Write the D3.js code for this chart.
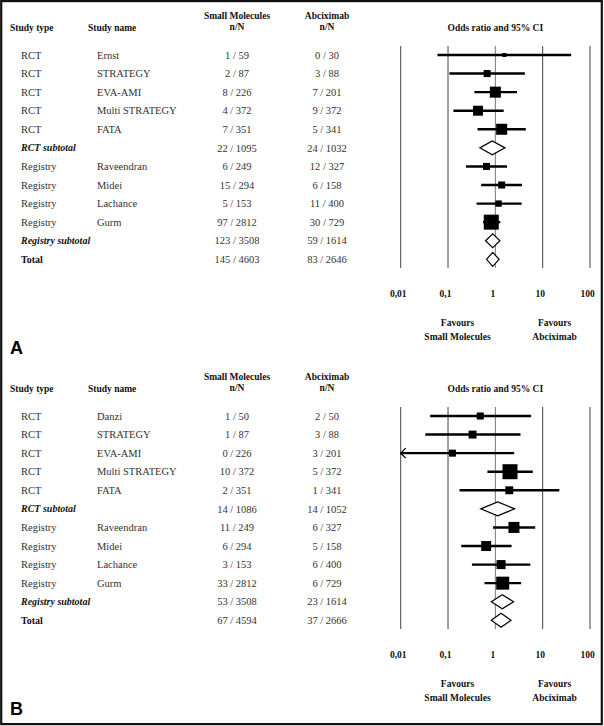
<!DOCTYPE html>
<html><head><meta charset="utf-8">
<script src="https://cdn.jsdelivr.net/npm/d3@7"></script>
<style>body{margin:0;background:#fff}svg{display:block}text{font-family:"Liberation Serif","DejaVu Serif",serif}</style>
</head><body>
<script>
// ---------- data ----------
const studyTypes = ["RCT","RCT","RCT","RCT","RCT","RCT subtotal","Registry","Registry","Registry","Registry","Registry subtotal","Total"];
const rowKinds   = ["study","study","study","study","study","subtotal","study","study","study","study","subtotal","total"];

const namesA = ["Ernst","STRATEGY","EVA-AMI","Multi STRATEGY","FATA","","Raveendran","Midei","Lachance","Gurm","",""];
const smallA = ["1 / 59","2 / 87","8 / 226","4 / 372","7 / 351","22 / 1095","6 / 249","15 / 294","5 / 153","97 / 2812","123 / 3508","145 / 4603"];
const abcA   = ["0 / 30","3 / 88","7 / 201","9 / 372","5 / 341","24 / 1032","12 / 327","6 / 158","11 / 400","30 / 729","59 / 1614","83 / 2646"];
const orA    = [1.55,0.67,1.0,0.43,1.36,0.86,0.65,1.36,1.17,0.82,0.88,0.88];
const loA    = [0.06,0.107,0.36,0.13,0.42,0.47,0.24,0.5,0.4,0.55,0.62,0.65];
const hiA    = [40,4.2,2.87,1.5,4.4,1.6,1.76,3.66,3.6,1.27,1.25,1.2];
const weightA= [7,22,54,44,54,null,22,22,18,100,null,null];

const namesB = ["Danzi","STRATEGY","EVA-AMI","Multi STRATEGY","FATA","","Raveendran","Midei","Lachance","Gurm","",""];
const smallB = ["1 / 50","1 / 87","0 / 226","10 / 372","2 / 351","14 / 1086","11 / 249","6 / 294","3 / 153","33 / 2812","53 / 3508","67 / 4594"];
const abcB   = ["2 / 50","3 / 88","3 / 201","5 / 372","1 / 341","14 / 1052","6 / 327","5 / 158","6 / 400","6 / 729","23 / 1614","37 / 2666"];
const orB    = [0.48,0.33,0.124,2.04,1.97,1.12,2.47,0.64,1.32,1.43,1.4,1.32];
const loB    = [0.042,0.033,0.005,0.68,0.175,0.49,0.89,0.19,0.32,0.59,0.82,0.82];
const hiB    = [5.7,3.4,2.5,6.2,22.5,2.55,6.95,2.2,5.5,3.5,2.43,2.14];
const weightB= [22,28,22,100,28,null,54,44,36,75,null,null];

const tickValues = [0.01,0.1,1,10,100];
const tickLabels = ["0,01","0,1","1","10","100"];
const panelLabels = ["A","B"];

// ---------- drawing ----------
const W = 604, H = 726;
const svg = d3.select("body").append("svg").attr("width",W).attr("height",H);

const x = d3.scaleLog().domain([0.01,100]).range([400.7,590]);
const box = d3.scaleSqrt().domain([0,100]).range([0,15]);

function panel(off, names, small, abc, or, lo, hi, weight, label){
  const g = svg.append("g").attr("transform",`translate(0,${off})`);
  const y = d3.scalePoint().domain(d3.range(studyTypes.length)).range([55,259.3]);

  // headers
  const ht = (tx,ty,s,anchor) => g.append("text").attr("x",tx).attr("y",ty).attr("dy","0.35em")
      .attr("text-anchor",anchor||"start").style("font-weight","bold").style("font-size","9.5px").style("fill","#111").text(s);
  ht(10,28,"Study type");
  ht(88,28,"Study name");
  ht(237,15.7,"Small Molecules","middle");
  ht(237,27,"n/N","middle");
  ht(327,15.7,"Abciximab","middle");
  ht(327,27,"n/N","middle");
  ht(x(1),28,"Odds ratio and 95% CI","middle");

  // rows text
  const fs = "10.5px";
  const rows = g.selectAll("g.row").data(d3.range(studyTypes.length)).join("g")
    .attr("class","row").attr("transform",i=>`translate(0,${y(i)})`);
  rows.append("text").attr("x",21).attr("dy","0.35em")
    .style("font-size",i=>rowKinds[i]==="study"?fs:"10px")
    .style("font-weight",i=>rowKinds[i]==="study"?"normal":"bold")
    .style("font-style",i=>rowKinds[i]==="subtotal"?"italic":"normal")
    .style("fill",i=>rowKinds[i]==="study"?"#333":"#111")
    .text(i=>studyTypes[i]);
  rows.append("text").attr("x",97).attr("dy","0.35em").style("font-size",fs).style("fill","#333").text(i=>names[i]);
  rows.append("text").attr("x",237).attr("dy","0.35em").attr("text-anchor","middle").style("font-size",fs).style("fill","#333").text(i=>small[i]);
  rows.append("text").attr("x",327).attr("dy","0.35em").attr("text-anchor","middle").style("font-size",fs).style("fill","#333").text(i=>abc[i]);

  // gridlines
  g.selectAll("line.grid").data(tickValues).join("line").attr("class","grid")
    .attr("x1",d=>x(d)).attr("x2",d=>x(d)).attr("y1",46).attr("y2",268)
    .attr("stroke",d=>d===1?"#777":"#444").attr("stroke-width",1);

  // axis labels
  const ax = g.append("g").attr("transform","translate(-3,287)")
    .call(d3.axisBottom(x).tickValues(tickValues).tickFormat((d,i)=>tickLabels[i]).tickSize(0));
  ax.select(".domain").remove();
  ax.selectAll("text").style("font-family",'"Liberation Serif",serif').style("font-weight","bold").style("font-size","9.5px").attr("fill","#111");

  // favours
  [["Favours","Small Molecules",x(10**-0.8)],["Favours","Abciximab",x(10**1.25)]].forEach(([a,b,px])=>{
    ht(px,322.7,a,"middle"); ht(px,336.7,b,"middle");
  });

  // CI lines
  const studyIdx = d3.range(studyTypes.length).filter(i=>rowKinds[i]==="study");
  const xmin = x.domain()[0];
  g.selectAll("line.ci").data(studyIdx).join("line").attr("class","ci")
    .attr("x1",i=>x(Math.max(lo[i],xmin))).attr("x2",i=>x(hi[i]))
    .attr("y1",i=>y(i)).attr("y2",i=>y(i)).attr("stroke","#000").attr("stroke-width",2.4);
  // arrows for clipped CIs
  g.selectAll("path.arrow").data(studyIdx.filter(i=>lo[i]<xmin)).join("path").attr("class","arrow")
    .attr("d",i=>{const px=x(xmin), py=y(i); return `M${px+5},${py-5}L${px},${py}L${px+5},${py+5}`;})
    .attr("fill","none").attr("stroke","#000").attr("stroke-width",1.3);
  // boxes
  g.selectAll("rect.pt").data(studyIdx).join("rect").attr("class","pt")
    .attr("x",i=>x(or[i])-box(weight[i])/2).attr("y",i=>y(i)-box(weight[i])/2)
    .attr("width",i=>box(weight[i])).attr("height",i=>box(weight[i])).attr("fill","#000");
  // diamonds
  const diaIdx = d3.range(studyTypes.length).filter(i=>rowKinds[i]!=="study");
  g.selectAll("path.dia").data(diaIdx).join("path").attr("class","dia")
    .attr("d",i=>`M${x(lo[i])},${y(i)}L${x(or[i])},${y(i)-7}L${x(hi[i])},${y(i)}L${x(or[i])},${y(i)+7}Z`)
    .attr("fill","#fff").attr("stroke","#000").attr("stroke-width",1.2);

  // panel label
  g.append("text").attr("x",10).attr("y",348).attr("dy","0.35em")
    .style("font-family",'"Liberation Sans",Arial,sans-serif').style("font-weight","bold").style("font-size","18px").text(label);
}

panel(0, namesA, smallA, abcA, orA, loA, hiA, weightA, panelLabels[0]);
panel(361, namesB, smallB, abcB, orB, loB, hiB, weightB, panelLabels[1]);

svg.append("rect").attr("x",1.2).attr("y",1.1).attr("width",600.6).attr("height",723).attr("fill","none")
  .attr("stroke","#111").attr("stroke-width",2.2);
</script>
</body></html>
